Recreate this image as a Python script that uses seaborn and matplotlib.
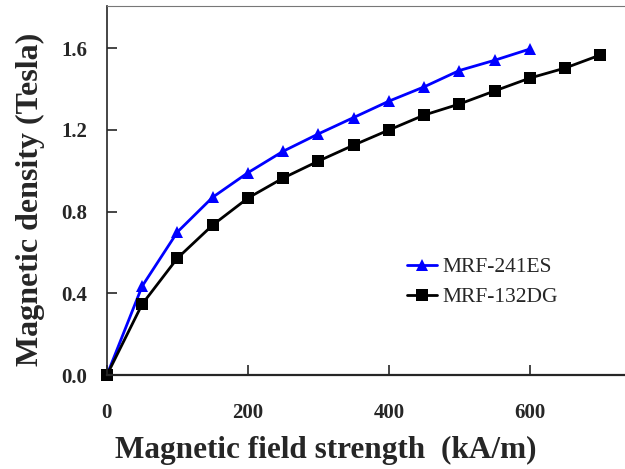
import pandas as pd
import matplotlib
matplotlib.use("Agg")
import matplotlib.pyplot as plt
import seaborn as sns

# -----------------------------
# Data
# -----------------------------
h_241 = [0, 50, 100, 150, 200, 250, 300, 350, 400, 450, 500, 550, 600]
b_241 = [0.0, 0.435, 0.70, 0.87, 0.99, 1.095, 1.18, 1.26, 1.34, 1.41, 1.49, 1.54, 1.595]

h_132 = [0, 50, 100, 150, 200, 250, 300, 350, 400, 450, 500, 550, 600, 650, 700]
b_132 = [0.0, 0.347, 0.572, 0.734, 0.866, 0.964, 1.047, 1.125, 1.199, 1.272, 1.326, 1.39, 1.453, 1.502, 1.566]

x_ticks = [0, 200, 400, 600]
y_ticks = [0.0, 0.4, 0.8, 1.2, 1.6]

df = pd.concat([
    pd.DataFrame({"H": h_241, "B": b_241, "fluid": "MRF-241ES"}),
    pd.DataFrame({"H": h_132, "B": b_132, "fluid": "MRF-132DG"}),
])

# -----------------------------
# Plot
# -----------------------------
sns.set_style("ticks")
plt.rcParams["font.family"] = ["Liberation Serif", "DejaVu Serif"]

fig = plt.figure(figsize=(6.25, 4.69), dpi=100)
ax = fig.add_axes([0.171, 0.2, 0.829, 0.787])

sns.lineplot(data=df, x="H", y="B", hue="fluid", style="fluid",
             palette={"MRF-241ES": "#0000ff", "MRF-132DG": "black"},
             markers={"MRF-241ES": "^", "MRF-132DG": "s"},
             dashes=False, markersize=8, linewidth=2,
             markeredgewidth=0, clip_on=False, ax=ax)

ax.set_xlim(0, 735)
ax.set_ylim(0, 1.805)
ax.set_xticks(x_ticks)
ax.set_xticklabels([str(v) for v in x_ticks])
ax.set_yticks(y_ticks)
ax.set_yticklabels([f"{v:.1f}" for v in y_ticks])
ax.tick_params(direction="in", length=7, width=1.2, labelsize=15)
ax.tick_params(axis="x", pad=20)
ax.tick_params(axis="y", pad=14)
for lab in ax.get_xticklabels() + ax.get_yticklabels():
    lab.set_fontweight("bold")

ax.spines["right"].set_visible(False)
ax.spines["top"].set_color("#777777")
ax.spines["left"].set_linewidth(1.2)
ax.spines["bottom"].set_linewidth(1.6)

ax.set_xlabel("Magnetic field strength  (kA/m)", fontsize=22.5, fontweight="bold")
ax.xaxis.set_label_coords(0.423, -0.165)
ax.set_ylabel("Magnetic density (Tesla)", fontsize=23, fontweight="bold")
ax.yaxis.set_label_coords(-0.12, 0.477)

leg = ax.legend(loc="center left", bbox_to_anchor=(0.579, 0.252), frameon=False,
                fontsize=15.5, handlelength=1.4, handletextpad=0.25, labelspacing=0.45,
                borderaxespad=0, borderpad=0)

fig.savefig("out.png", dpi=100)
